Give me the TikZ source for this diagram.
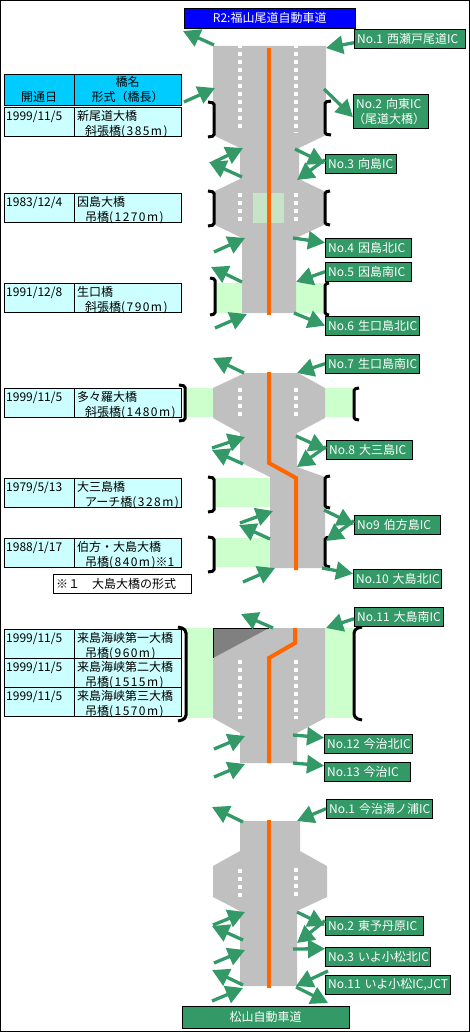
\documentclass[tikz,border=0pt]{standalone}
\usepackage{fontspec}
\setmainfont{Noto Sans CJK JP}
\usepackage{tikz}
\usetikzlibrary{arrows.meta}
\definecolor{roadgray}{HTML}{C0C0C0}
\definecolor{darkroad}{HTML}{808080}
\definecolor{bridgegreen}{HTML}{CCFFCC}
\definecolor{patchgreen}{HTML}{C8E4C8}
\definecolor{icgreen}{HTML}{339966}
\definecolor{centerline}{HTML}{FF6600}
\definecolor{hdrcyan}{HTML}{00CCFF}
\definecolor{rowcyan}{HTML}{CCFFFF}
\definecolor{routeblue}{HTML}{0000FF}
% Two text lines of a table row, and the wider bridge lengths
\newcommand{\rowtext}[2]{\rule{0pt}{12.5pt}#1\\\raisebox{0pt}[0pt][0pt]{#2}}
\newcommand{\spanlen}[1]{{\addfontfeature{LetterSpace=12}#1}}

\begin{document}
\begin{tikzpicture}[
    x=1pt, y=-1pt,
    >=stealth,
    every node/.style={font=\fontsize{12}{15}\selectfont},
    % Styles for the components
    road/.style={fill=roadgray, draw=none},
    span/.style={fill=bridgegreen, draw=none},
    lanemark/.style={draw=white, line width=4pt, dash pattern=on 4pt off 4pt},
    midline/.style={draw=centerline, line width=4pt},
    brk/.style={draw=black, line width=3pt, rounded corners=1.5pt},
    icarrow/.style={draw=icgreen, line width=3.3pt, -{Triangle[length=17pt,width=18pt]}},
    iclabel/.style={rectangle, draw=black, fill=icgreen, text=white, anchor=north west,
        inner xsep=3pt, inner ysep=0pt, align=left, minimum height=19pt, text width=#1},
    datecell/.style={rectangle, draw=black, fill=rowcyan, anchor=north west, inner xsep=2pt,
        inner ysep=0pt, align=left, minimum height=29pt, text width=66pt},
    namecell/.style={rectangle, draw=black, fill=rowcyan, anchor=north west, inner xsep=3pt,
        inner ysep=0pt, align=left, minimum height=29pt, text width=101pt},
    hdrcell/.style={rectangle, draw=black, fill=hdrcyan, anchor=north west, inner sep=0pt,
        align=center, minimum height=31pt, text width=#1}
]
    \useasboundingbox (0,0) rectangle (470,1032);
    \draw[black] (0.5,0.5) rectangle (469.5,1031.5);

    % =========================================================================
    % 1. ROUTE ENDS
    % =========================================================================
    \node[rectangle, draw=black, fill=routeblue, text=white, anchor=north west, inner sep=0pt,
        minimum width=171pt, minimum height=20pt] (route_top) at (184,8) {R2:福山尾道自動車道};
    \node[rectangle, draw=black, fill=icgreen, text=white, anchor=north west, inner sep=0pt,
        minimum width=167pt, minimum height=22pt] (route_bottom) at (182,1006) {松山自動車道};

    % =========================================================================
    % 2. BRIDGE SPANS
    % =========================================================================
    \fill[span] (216,283) rectangle (242,313);
    \fill[span] (296,283) rectangle (324,313);
    \fill[span] (186,388) rectangle (213,417);
    \fill[span] (325,388) rectangle (353,417);
    \fill[span] (216,478) rectangle (270,507);
    \fill[span] (216,538) rectangle (270,567);
    \fill[span] (186,628) rectangle (213,718);
    \fill[span] (325,628) rectangle (353,718);

    % =========================================================================
    % 3. ROAD BODIES
    % =========================================================================
    % Onomichi to Ikuchijima
    \fill[road] (213,46) -- (326,46) -- (326,135) -- (299,148) -- (299,179) -- (326,192)
        -- (326,224) -- (296,238) -- (296,313) -- (242,313) -- (242,238) -- (213,224)
        -- (213,192) -- (240,179) -- (240,148) -- (213,135) -- cycle;
    % Omishima to Oshima
    \fill[road] (245,373) -- (298,373) -- (325,388) -- (325,418) -- (297,433) -- (297,467)
        -- (325,477) -- (325,568) -- (270,568) -- (270,477) -- (240,462) -- (240,433)
        -- (213,418) -- (213,388) -- cycle;
    % Kurushima
    \fill[road] (213,628) -- (325,628) -- (325,718) -- (297,733) -- (297,763) -- (240,763)
        -- (240,733) -- (213,718) -- cycle;
    \fill[darkroad] (213,628) -- (269,628) -- (213,658) -- cycle;
    \draw[black] (213,658) -- (213,628) -- (269,628);
    % Imabari to Komatsu
    \fill[road] (240,821) -- (300,821) -- (300,851) -- (327,866) -- (327,897) -- (297,911)
        -- (297,986) -- (240,986) -- (240,911) -- (213,897) -- (213,866) -- (240,851) -- cycle;

    % Patch on the Innoshima deck
    \fill[patchgreen] (253,193) rectangle (284,223);

    % =========================================================================
    % 4. LANE MARKS AND CENTRE LINE
    % =========================================================================
    \draw[lanemark] (240,44.5) -- (240,129);
    \draw[lanemark] (296,44.5) -- (296,133);
    \draw[lanemark] (240,193) -- (240,222);
    \draw[lanemark] (296,193) -- (296,222);
    \draw[lanemark] (240,388) -- (240,417);
    \draw[lanemark] (296,388) -- (296,417);
    \draw[lanemark] (240,660) -- (240,719);
    \draw[lanemark] (296,660) -- (296,719);
    \draw[lanemark] (240,869) -- (240,897);
    \draw[lanemark] (296,868) -- (296,896);

    \draw[midline] (269,48) -- (269,315);
    \draw[midline] (269,372) -- (269,463) -- (296,478) -- (296,570);
    \draw[midline] (295,628) -- (295,643) -- (269,658) -- (269,763);
    \draw[midline] (269,820) -- (269,988);

    % =========================================================================
    % 5. BRACKETS
    % =========================================================================
    \draw[brk] (208,102) -- (214,103) -- (214,136) -- (208,137);
    \draw[brk] (331,101) -- (325,102) -- (325,134) -- (331,135);
    \draw[brk] (208,191) -- (214,192) -- (214,225) -- (208,226);
    \draw[brk] (330,191) -- (325,192) -- (325,224) -- (330,225);
    \draw[brk] (210,278) -- (215,279) -- (215,314) -- (210,315);
    \draw[brk] (329,283) -- (325,284) -- (325,314) -- (329,315);
    \draw[brk] (179,385) -- (185,386) -- (185,420) -- (179,421);
    \draw[brk] (359,388) -- (354,389) -- (354,419) -- (359,420);
    \draw[brk] (208,477) -- (214,478) -- (214,511) -- (208,512);
    \draw[brk] (330,476) -- (325,477) -- (325,507) -- (330,508);
    \draw[brk] (208,537) -- (214,538) -- (214,571) -- (208,572);
    \draw[brk] (330,537) -- (325,538) -- (325,566) -- (330,567);
    \draw[brk, rounded corners=4pt] (178,627) -- (186,629) -- (186,719) -- (178,721);
    \draw[brk, rounded corners=4pt] (362,627) -- (354,629) -- (354,718) -- (362,720);

    % =========================================================================
    % 6. BRIDGE TABLE
    % =========================================================================
    \node[hdrcell=70pt] (hdr_date) at (4,74) {\strut\\開通日};
    \node[hdrcell=107pt] (hdr_name) at (74,74) {橋名\\形式（橋長）};
    \draw[black] (hdr_date.south west) -- (hdr_name.south east);

    \node[datecell] (date1) at (4,107) {\rowtext{1999/11/5}{}};
    \node[namecell] (name1) at (74,107) {\rowtext{新尾道大橋}{\hspace{8pt}斜張橋\spanlen{(385m)}}};
    \node[datecell] (date2) at (4,193) {\rowtext{1983/12/4}{}};
    \node[namecell] (name2) at (74,193) {\rowtext{因島大橋}{\hspace{8pt}吊橋\spanlen{(1270m)}}};
    \node[datecell] (date3) at (4,283) {\rowtext{1991/12/8}{}};
    \node[namecell] (name3) at (74,283) {\rowtext{生口橋}{\hspace{8pt}斜張橋\spanlen{(790m)}}};
    \node[datecell] (date4) at (4,388) {\rowtext{1999/11/5}{}};
    \node[namecell] (name4) at (74,388) {\rowtext{多々羅大橋}{\hspace{8pt}斜張橋\spanlen{(1480m)}}};
    \node[datecell] (date5) at (4,478) {\rowtext{1979/5/13}{}};
    \node[namecell] (name5) at (74,478) {\rowtext{大三島橋}{\hspace{8pt}アーチ橋\spanlen{(328m)}}};
    \node[datecell] (date6) at (4,538) {\rowtext{1988/1/17}{}};
    \node[namecell] (name6) at (74,538) {\rowtext{伯方・大島大橋}{\hspace{8pt}吊橋\spanlen{(840m)}※1}};
    \node[datecell] (date7) at (4,629) {\rowtext{1999/11/5}{}};
    \node[namecell] (name7) at (74,629) {\rowtext{来島海峡第一大橋}{\hspace{8pt}吊橋\spanlen{(960m)}}};
    \node[datecell] (date8) at (4,658) {\rowtext{1999/11/5}{}};
    \node[namecell] (name8) at (74,658) {\rowtext{来島海峡第二大橋}{\hspace{8pt}吊橋\spanlen{(1515m)}}};
    \node[datecell] (date9) at (4,687) {\rowtext{1999/11/5}{}};
    \node[namecell] (name9) at (74,687) {\rowtext{来島海峡第三大橋}{\hspace{8pt}吊橋\spanlen{(1570m)}}};

    \node[rectangle, draw=black, fill=white, anchor=north west, inner xsep=3pt, inner ysep=0pt,
        align=left, text width=132pt, minimum height=19pt] (note1) at (53,574) {※１　大島大橋の形式};

    % =========================================================================
    % 7. INTERCHANGE LABELS
    % =========================================================================
    \node[iclabel=105pt] (ic1) at (354,29) {No.1~西瀬戸尾道IC};
    \node[iclabel=69pt, minimum height=34pt] (ic2) at (353,94) {No.2~向東IC\\\hspace{-3pt}（尾道大橋）};
    \node[iclabel=65pt] (ic3) at (325,154) {No.3~向島IC};
    \node[iclabel=80pt] (ic4) at (325,238) {No.4~因島北IC};
    \node[iclabel=80pt] (ic5) at (325,262) {No.5~因島南IC};
    \node[iclabel=88pt] (ic6) at (325,316) {No.6~生口島北IC};
    \node[iclabel=88pt] (ic7) at (325,354) {No.7~生口島南IC};
    \node[iclabel=80pt] (ic8) at (326,440) {No.8~大三島IC};
    \node[iclabel=80pt] (ic9) at (354,515) {No9~伯方島IC};
    \node[iclabel=82pt] (ic10) at (353,569) {No.10~大島北IC};
    \node[iclabel=83pt] (ic11) at (354,607) {No.11~大島南IC};
    \node[iclabel=82pt] (ic12) at (324,734) {No.12~今治北IC};
    \node[iclabel=80pt] (ic13) at (324,762) {No.13~今治IC};
    \node[iclabel=100pt] (jc1) at (326,799) {No.1~今治湯ノ浦IC};
    \node[iclabel=92pt] (jc2) at (325,916) {No.2~東予丹原IC};
    \node[iclabel=99pt] (jc3) at (325,947) {No.3~いよ小松北IC};
    \node[iclabel=119pt] (jc11) at (325,975) {No.11~いよ小松IC,JCT};

    % =========================================================================
    % 8. RAMP ARROWS
    % =========================================================================
    % Onomichi to Ikuchijima
    \draw[icarrow] (214,45) -- (183,31);
    \draw[icarrow] ([yshift=-4pt]ic1.west) -- (326,48);
    \draw[icarrow] (184,102) -- (215,88);
    \draw[icarrow] (324,89) -- ([yshift=-6pt]ic2.west);
    \draw[icarrow] (212,163) -- (243,148);
    \draw[icarrow] (242,177) -- (209,162);
    \draw[icarrow] (295,149) -- (ic3.west);
    \draw[icarrow] ([yshift=4pt]ic3.west) -- (297,180);
    \draw[icarrow] (214,252) -- (245,238);
    \draw[icarrow] (293,238) -- ([yshift=5pt]ic4.west);
    \draw[icarrow] (ic5.west) -- (296,282);
    \draw[icarrow] (242,282) -- (211,267);
    \draw[icarrow] (215,328) -- (247,314);
    \draw[icarrow] (294,313) -- (ic6.west);

    % Omishima to Oshima
    \draw[icarrow] (244,373) -- (213,358);
    \draw[icarrow] (ic7.west) -- (297,373);
    \draw[icarrow] (212,448) -- (245,437);
    \draw[icarrow] (243,464) -- (212,450);
    \draw[icarrow] (296,436) -- (ic8.west);
    \draw[icarrow] ([yshift=3pt]ic8.west) -- (297,467);
    \draw[icarrow] (324,510) -- (ic9.west);
    \draw[icarrow] ([yshift=4pt]ic9.west) -- (326,541);
    \draw[icarrow] (240,523) -- (273,511);
    \draw[icarrow] (270,539) -- (239,525);
    \draw[icarrow] (243,582) -- (275,568);
    \draw[icarrow] (322,568) -- ([yshift=5pt]ic10.west);

    % Kurushima
    \draw[icarrow] (273,628) -- (241,614);
    \draw[icarrow] ([yshift=-2pt]ic11.west) -- (326,628);
    \draw[icarrow] (214,749) -- (245,736);
    \draw[icarrow] (293,735) -- ([yshift=6pt]ic12.west);
    \draw[icarrow] (214,777) -- (245,764);
    \draw[icarrow] (293,763) -- ([yshift=6pt]ic13.west);

    % Imabari to Komatsu
    \draw[icarrow] (243,822) -- (212,807);
    \draw[icarrow] (jc1.west) -- (297,821);
    \draw[icarrow] (213,925) -- (245,912);
    \draw[icarrow] (243,940) -- (212,926);
    \draw[icarrow] (297,912) -- (jc2.west);
    \draw[icarrow] ([yshift=5pt]jc2.west) -- (297,943);
    \draw[icarrow] (214,963) -- (245,950);
    \draw[icarrow] (293,949) -- ([yshift=8pt]jc3.west);
    \draw[icarrow] (243,985) -- (212,970);
    \draw[icarrow] (328,971) -- (296,986);
    \draw[icarrow] (212,1001) -- (243,988);
    \draw[icarrow] (296,987) -- (328,1003);

\end{tikzpicture}
\end{document}
